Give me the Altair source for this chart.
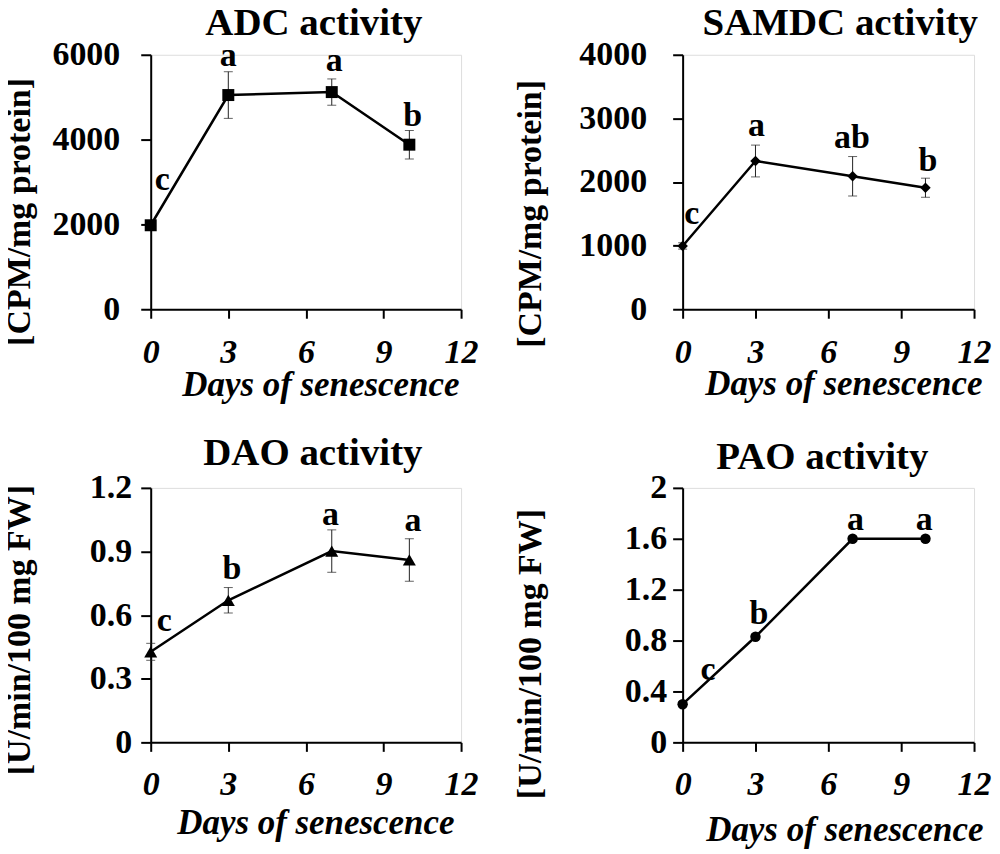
import altair as alt
import pandas as pd

FONT = "Liberation Serif"

days = [0, 3, 7, 10]

# ADC activity [CPM/mg protein]
adc_mean = [1980, 5050, 5120, 3880]
adc_err = [80, 550, 310, 335]
adc_letters = ["c", "a", "a", "b"]
adc_lx = [0.45, 3.0, 7.1, 10.13]
adc_ly = [2820, 5730, 5610, 4315]

# SAMDC activity [CPM/mg protein]
samdc_mean = [995, 2330, 2090, 1910]
samdc_err = [50, 250, 310, 150]
samdc_letters = ["c", "a", "ab", "b"]
samdc_lx = [0.38, 3.04, 6.97, 10.1]
samdc_ly = [1333, 2720, 2537, 2171]

# DAO activity [U/min/100 mg FW]
dao_mean = [0.427, 0.670, 0.902, 0.860]
dao_err = [0.04, 0.06, 0.10, 0.10]
dao_letters = ["c", "b", "a", "a"]
dao_lx = [0.52, 3.14, 6.95, 10.14]
dao_ly = [0.526, 0.769, 1.027, 0.996]

# PAO activity [U/min/100 mg FW]
pao_mean = [0.30, 0.83, 1.60, 1.60]
pao_err = [0.02, 0.02, 0.02, 0.02]
pao_letters = ["c", "b", "a", "a"]
pao_lx = [1.05, 3.14, 7.12, 9.95]
pao_ly = [0.487, 0.934, 1.672, 1.672]

x_ticks = [0, 3, 6, 9, 12]


def panel(title, mean, err, shape, size, ydom, yvals, yfmt, ytitle,
          letters, lx, ly, w, h, tdx, tdy, ytx, yty, ylp, xtx, xty, xlp):
    df = pd.DataFrame({
        "day": days,
        "mean": mean,
        "lo": [m - e for m, e in zip(mean, err)],
        "hi": [m + e for m, e in zip(mean, err)],
    })
    lab = pd.DataFrame({"lx": lx, "ly": ly, "t": letters})

    xaxis = alt.Axis(
        values=x_ticks, title="Days of senescence", grid=False,
        titleFont=FONT, titleFontSize=35, titleFontStyle="italic",
        titleFontWeight="bold", titleColor="black",
        titleX=xtx, titleY=xty, titleBaseline="alphabetic", titleAlign="center",
        labelFont=FONT, labelFontSize=34, labelFontStyle="italic",
        labelFontWeight="bold", labelColor="black", labelPadding=xlp,
        labelFlush=False, labelOverlap=False,
        tickSize=9, tickWidth=2, tickColor="black",
        domainWidth=2, domainColor="black",
    )
    yaxis = alt.Axis(
        values=yvals, format=yfmt, title=ytitle, grid=False,
        titleFont=FONT, titleFontSize=34, titleFontWeight="bold",
        titleColor="black", titleAngle=270,
        titleX=ytx, titleY=yty, titleBaseline="middle", titleAlign="center",
        labelFont=FONT, labelFontSize=34, labelFontWeight="bold",
        labelColor="black", labelPadding=ylp,
        labelFlush=False, labelOverlap=False,
        tickSize=10, tickWidth=2, tickColor="black",
        domainWidth=2, domainColor="black",
    )
    xs = alt.Scale(domain=[0, 12], nice=False, zero=False)
    ys = alt.Scale(domain=ydom, nice=False, zero=False)

    base = alt.Chart(df)
    rule = base.mark_rule(color="#222222", strokeWidth=1).encode(
        x=alt.X("day:Q", scale=xs, axis=xaxis),
        y=alt.Y("lo:Q", scale=ys, axis=yaxis),
        y2="hi:Q",
    )
    cap_hi = base.mark_tick(color="#222222", orient="horizontal", size=9, thickness=1).encode(
        x=alt.X("day:Q", scale=xs, axis=xaxis),
        y=alt.Y("hi:Q", scale=ys, axis=yaxis),
    )
    cap_lo = base.mark_tick(color="#222222", orient="horizontal", size=9, thickness=1).encode(
        x=alt.X("day:Q", scale=xs, axis=xaxis),
        y=alt.Y("lo:Q", scale=ys, axis=yaxis),
    )
    line = base.mark_line(color="black", strokeWidth=2.5).encode(
        x=alt.X("day:Q", scale=xs, axis=xaxis),
        y=alt.Y("mean:Q", scale=ys, axis=yaxis),
    )
    pts = base.mark_point(shape=shape, filled=True, size=size, color="black", opacity=1).encode(
        x=alt.X("day:Q", scale=xs, axis=xaxis),
        y=alt.Y("mean:Q", scale=ys, axis=yaxis),
    )
    txt = alt.Chart(lab).mark_text(
        font=FONT, fontSize=34, fontWeight="bold", color="black",
        align="center", baseline="alphabetic",
    ).encode(
        x=alt.X("lx:Q", scale=xs, axis=xaxis),
        y=alt.Y("ly:Q", scale=ys, axis=yaxis),
        text="t:N",
    )
    return alt.layer(rule, cap_hi, cap_lo, line, pts, txt).properties(
        width=w, height=h,
        title=alt.TitleParams(
            text=title, font=FONT, fontSize=39, fontWeight="bold", color="black",
            anchor="middle", baseline="alphabetic", frame="group",
            offset=23, dx=tdx, dy=tdy,
        ),
    )


W1, W2, H = 311, 292, 255

p1 = panel("ADC activity", adc_mean, adc_err, "square", 144, [0, 6000],
           [0, 2000, 4000, 6000], "d", "[CPM/mg protein]",
           adc_letters, adc_lx, adc_ly, W1, H,
           8, 59, -131, 157, 21, 170, 86, 17)
p2 = panel("SAMDC activity", samdc_mean, samdc_err, "diamond", 110, [0, 4000],
           [0, 1000, 2000, 3000, 4000], "d", "[CPM/mg protein]",
           samdc_letters, samdc_lx, samdc_ly, W2, H,
           12, 59, -152, 159, 26, 161, 85, 17)
p3 = panel("DAO activity", dao_mean, dao_err, "triangle-up", 170, [0, 1.2],
           [0, 0.3, 0.6, 0.9, 1.2], "~g", "[U/min/100 mg FW]",
           dao_letters, dao_lx, dao_ly, W1, H,
           7, 56, -131, 142, 9, 165, 91, 16)
p4 = panel("PAO activity", pao_mean, pao_err, "circle", 110, [0, 2],
           [0, 0.4, 0.8, 1.2, 1.6, 2], "~g", "[U/min/100 mg FW]",
           pao_letters, pao_lx, pao_ly, W2, H,
           -6, 60, -152, 166, 6, 162, 98, 16)

chart = alt.concat(p1, p2, p3, p4, columns=2).properties(
    spacing={"row": 179, "column": 222},
    bounds="flush",
    align="all",
    padding={"left": -6, "top": -6, "right": 0, "bottom": 0},
).configure_view(strokeWidth=0, strokeOpacity=0).configure(background="white")

chart.save("out.html", embed_options={"renderer": "svg", "actions": False})
